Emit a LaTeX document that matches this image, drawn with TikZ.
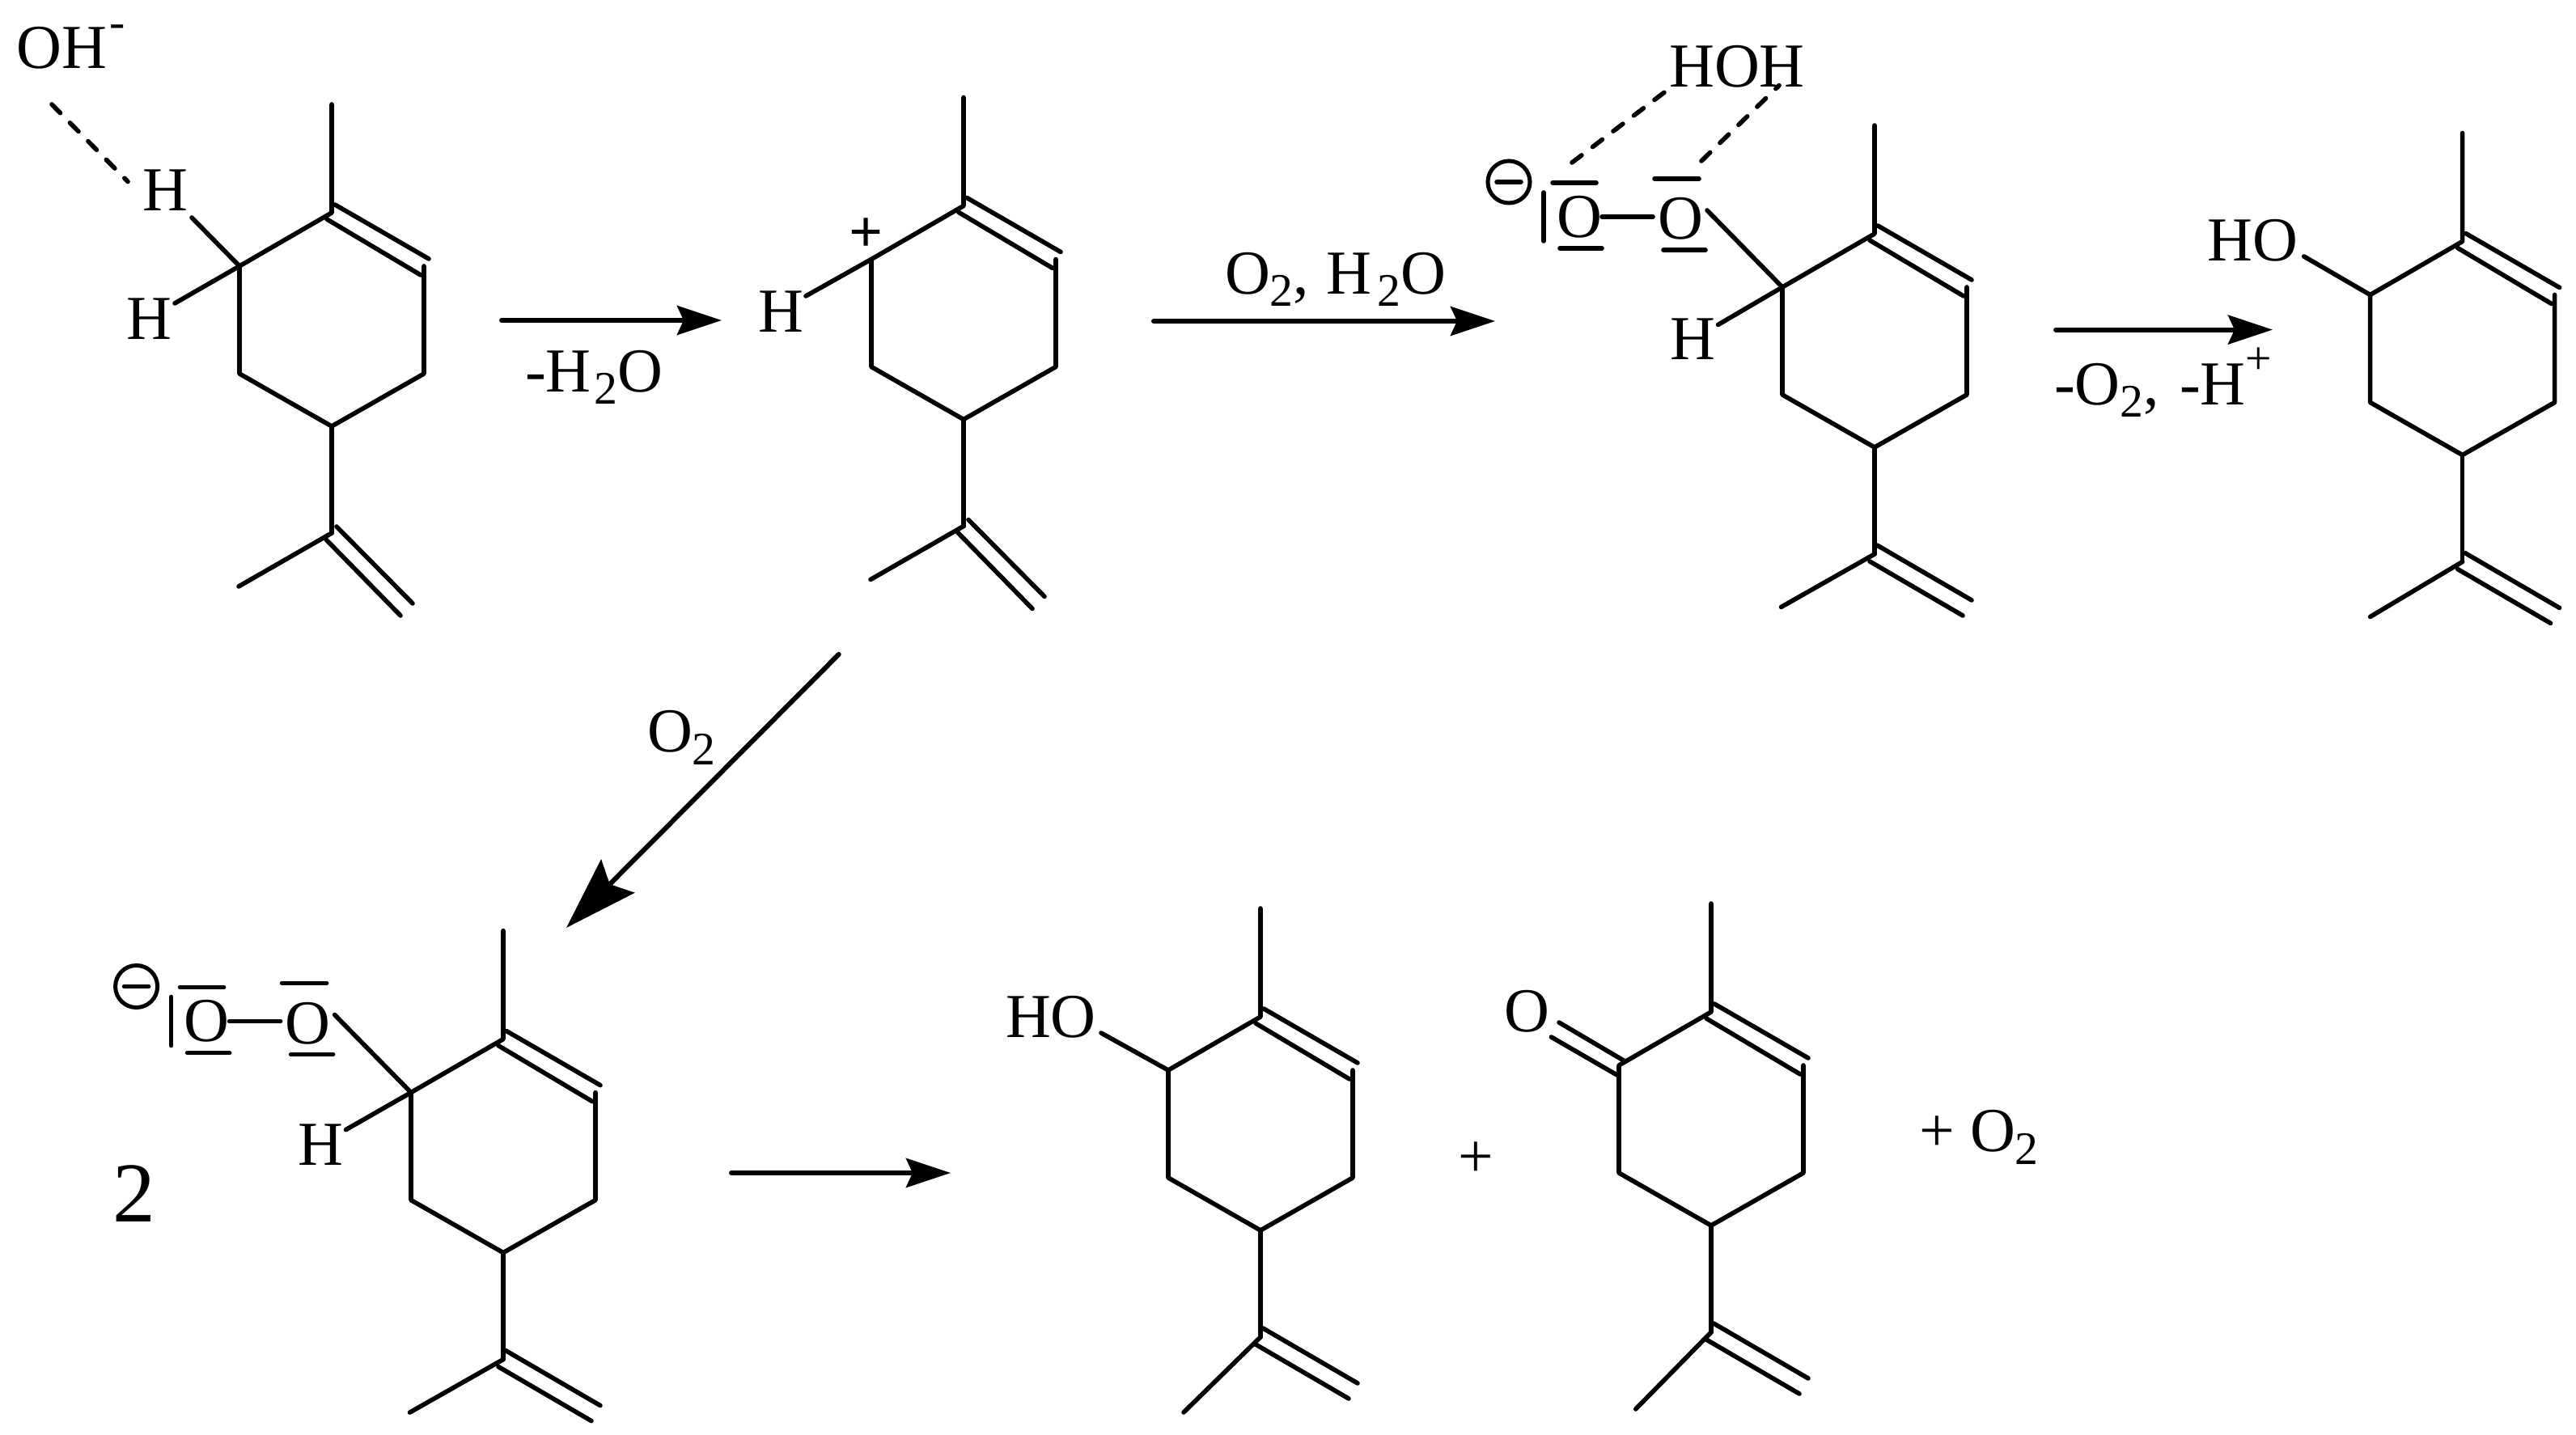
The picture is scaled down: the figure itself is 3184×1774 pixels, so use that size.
\documentclass[tikz,border=0pt]{standalone}
\usepackage{fontspec}
\setmainfont{Liberation Serif}
\usetikzlibrary{arrows.meta}
\newcommand{\subn}[1]{\raisebox{-0.15cm}{\fontsize{16.4}{18}\selectfont #1}}
\newcommand{\supn}[1]{\raisebox{0.38cm}{\fontsize{16.4}{18}\selectfont #1}}
\tikzset{
  x=0.01cm,y=-0.01cm,
  bond/.style={line width=0.056cm,line cap=round,line join=round},
  dashbond/.style={bond,dash pattern=on 0.15cm off 0.17cm},
  lbl/.style={inner sep=0,outer sep=0,font=\fontsize{22}{25}\selectfont},
  minuscirc/.style={circle,draw,line width=0.05cm,inner sep=0,outer sep=0,minimum size=0.52cm},
  rxn/.style={line width=0.06cm,line cap=round,-{Stealth[length=0.55cm,width=0.36cm,inset=0.08cm]}},
  bigrxn/.style={line width=0.06cm,line cap=round,-{Stealth[length=0.9cm,width=0.58cm,inset=0.14cm]}},
}
% name, position of the ring carbon bearing the methyl, Me end, =CH2 outer start/end, inner start/end (relative to iso carbon)
\newcommand{\mol}[7]{%
  \begin{scope}[shift={#2}]
    \coordinate (#1c2) at (0,0);
    \coordinate (#1m) at (0,-134);
    \coordinate (#1c1) at (-114,66);
    \coordinate (#1ll) at (-114,199);
    \coordinate (#1b) at (0,264);
    \coordinate (#1lr) at (114,199);
    \coordinate (#1ur) at (114,66);
    \coordinate (#1i) at (0,396);
    \coordinate (#1a1) at (4,-10);
    \coordinate (#1a2) at (120,57);
    \coordinate (#1a3) at (-6,8);
    \coordinate (#1a4) at (110,77);
    \draw[bond] (#1m) -- (#1c2) -- (#1c1) -- (#1ll) -- (#1b) -- (#1lr) -- (#1ur);
    \draw[bond] (#1a1) -- (#1a2);
    \draw[bond] (#1a3) -- (#1a4);
    \draw[bond] (#1b) -- (#1i);
    \begin{scope}[shift={(0,396)}]
      \coordinate (#1me) at #3;
      \coordinate (#1d1) at #4;
      \coordinate (#1d2) at #5;
      \coordinate (#1d3) at #6;
      \coordinate (#1d4) at #7;
      \draw[bond] (#1i) -- (#1me);
      \draw[bond] (#1d1) -- (#1d2);
      \draw[bond] (#1d3) -- (#1d4);
    \end{scope}
  \end{scope}}
\newcommand{\molsteep}[2]{\mol{#1}{#2}{(-115,66)}{(6,-8)}{(100,87)}{(-7,8)}{(85,102)}}
\newcommand{\molflat}[3]{\mol{#1}{#2}{#3}{(3,-11)}{(120,57)}{(-6,9)}{(109,76)}}
% peroxy anion group
\newcommand{\peroxo}[2]{%
  \begin{scope}[shift={#2}]
    \node[lbl] (#1o1) at (0,0) {O};
    \node[lbl] (#1o2) at (125,2.5) {O};
    \node[minuscirc] (#1ch) at (-87,-43) {};
    \draw[bond] ([xshift=0.11cm]#1ch.west) -- ([xshift=-0.11cm]#1ch.east);
    \draw[bond] (-33,-42) -- (21,-42);
    \draw[bond] (-24,39) -- (28,39);
    \draw[bond] (-44,-30) -- (-44,30);
    \draw[bond] (93,-47) -- (148,-47);
    \draw[bond] (104,41) -- (156,41);
    \draw[bond,shorten >=0.06cm] (#1o1.east) -- (#1o1.east -| #1o2.west);
    \coordinate (#1oc) at (158,-8);
    \coordinate (#1t1) at (-9,-67);
    \coordinate (#1t2) at (151,-69);
  \end{scope}}
\begin{document}
\begin{tikzpicture}
\useasboundingbox (0,0) rectangle (3184,1774);

% molecule 1
\molsteep{A}{(410,263)}
\node[lbl,anchor=base west] (oh) at (21,85) {OH\kern0.03cm\supn{-}};
\node[lbl] (h1) at (204,235) {H};
\node[lbl] (h2) at (184,394) {H};
\coordinate (dsA) at (64,129);
\coordinate (deA) at (158,224.5);
\coordinate (bh1) at (237,269);
\coordinate (bh2) at (216,375);
\draw[dashbond] (dsA) -- (deA);
\draw[bond] (bh1) -- (Ac1);
\draw[bond] (bh2) -- (Ac1);

% arrow 1
\coordinate (r1s) at (620,396);
\coordinate (r1e) at (892,396);
\draw[rxn] (r1s) -- (r1e);
\node[lbl,anchor=base west] (l1) at (649,485) {-H\kern0.04cm\subn{2}O};

% molecule 2
\molsteep{B}{(1191,254.5)}
\node[lbl] (h3) at (965,385) {H};
\coordinate (bh3) at (996,366);
\draw[bond] (bh3) -- (Bc1);
\node[inner sep=0,font=\fontsize{21}{22}\selectfont\bfseries] (plus) at (1071,291) {+};

% arrow 2
\coordinate (r2s) at (1426,397);
\coordinate (r2e) at (1848,397);
\draw[rxn] (r2s) -- (r2e);
\node[lbl,anchor=base west] (l2) at (1514,364) {O\subn{2}, \kern0.02cm H\kern0.07cm\subn{2}O};

% molecule 3
\molflat{C}{(2317,289)}{(-115.5,65.5)}
\peroxo{P}{(1952,268)}
\draw[bond] (Poc) -- (Cc1);
\node[lbl] (hoh) at (2147,82) {HOH};
\node[lbl] (h4) at (2092,419) {H};
\coordinate (bh4) at (2123.5,401.5);
\draw[bond] (bh4) -- (Cc1);
\coordinate (d1e) at (2060,112);
\coordinate (d2e) at (2199,105.6);
\draw[dashbond] (Pt1) -- (d1e);
\draw[dashbond] (Pt2) -- (d2e);

% arrow 3
\coordinate (r3s) at (2541,407.6);
\coordinate (r3e) at (2809,407.6);
\draw[rxn] (r3s) -- (r3e);
\node[lbl,anchor=base west] (l3) at (2539,501) {-O\subn{2}, \kern0.06cm-H\supn{+}};

% molecule 4
\molflat{D}{(3043.6,298.5)}{(-114,68)}
\node[lbl] (ho1) at (2784.5,297) {HO};
\coordinate (bo1) at (2847.7,317);
\draw[bond] (bo1) -- (Dc1);

% diagonal arrow
\coordinate (r4s) at (1036.7,809);
\coordinate (r4e) at (700,1147);
\draw[bigrxn] (r4s) -- (r4e);
\node[lbl,anchor=base west] (l4) at (800,930) {O\subn{2}};

% molecule 5
\node[inner sep=0,font=\fontsize{30}{34}\selectfont] (two) at (166,1476) {2};
\molflat{E}{(622,1284.6)}{(-115.5,65.5)}
\peroxo{Q}{(255.6,1262.5)}
\draw[bond] (Qoc) -- (Ec1);
\node[lbl] (h5) at (396,1415) {H};
\coordinate (bh5) at (427.5,1396.6);
\draw[bond] (bh5) -- (Ec1);

% arrow 4
\coordinate (r5s) at (904,1450);
\coordinate (r5e) at (1175,1450);
\draw[rxn] (r5s) -- (r5e);

% molecule 6
\molflat{F}{(1558,1257)}{(-95,93)}
\node[lbl] (ho2) at (1299,1257) {HO};
\coordinate (bo2) at (1361,1277);
\draw[bond] (bo2) -- (Fc1);
\node[lbl] (pl) at (1824.5,1434) {+};

% molecule 7
\molflat{G}{(2115,1251)}{(-93.3,95)}
\node[lbl] (o7) at (1887,1250) {O};
\coordinate (co1) at (1927,1264);
\coordinate (co2) at (2008.5,1312);
\coordinate (co3) at (1917.4,1282);
\coordinate (co4) at (1998.7,1329);
\draw[bond] (co1) -- (co2);
\draw[bond] (co3) -- (co4);
\node[lbl,anchor=base west] (o2t) at (2372,1424) {+ O\subn{2}};
\end{tikzpicture}
\end{document}
